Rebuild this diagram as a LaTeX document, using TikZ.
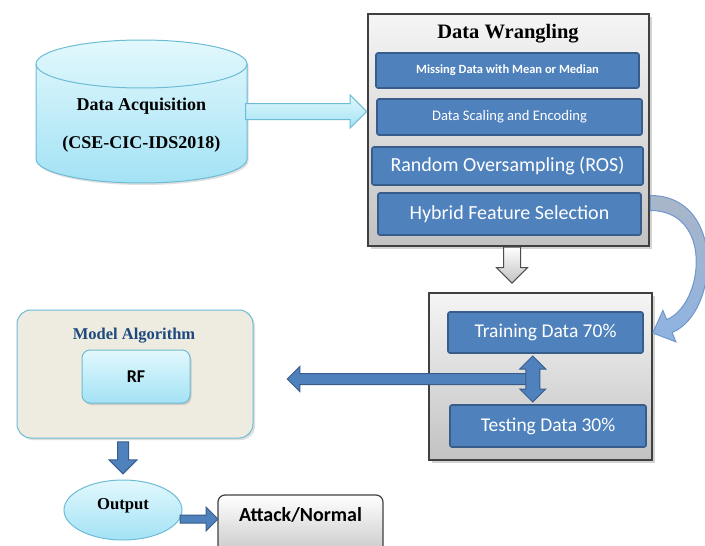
\documentclass[tikz,border=0pt]{standalone}
\usepackage{fontspec}
\setmainfont{Liberation Serif}
\newfontfamily\calibri{Carlito}
\usetikzlibrary{arrows.meta,positioning,calc,shapes.geometric,shapes.arrows,shadows}

\definecolor{boxblue}{HTML}{4F81BD}
\definecolor{boxline}{HTML}{385D8A}
\definecolor{cyantop}{HTML}{E2F8FD}
\definecolor{cyanbot}{HTML}{A3E2F5}
\definecolor{cyanline}{HTML}{6CBCD5}
\definecolor{graytop}{HTML}{F5F5F5}
\definecolor{graybot}{HTML}{C2C2C2}
\definecolor{beige}{HTML}{EEECE1}
\definecolor{navy}{HTML}{1F497D}
\definecolor{curvetop}{HTML}{A9B6C8}
\definecolor{curvebot}{HTML}{8DB3E2}
\definecolor{curveline}{HTML}{7196CA}

\begin{document}
\begin{tikzpicture}[x=1pt, y=-1pt,
  panel/.style={draw=black!75, line width=1.2pt, top color=graytop,
    bottom color=graybot, drop shadow={shadow xshift=2.5pt,
    shadow yshift=-2.5pt, opacity=0.35}},
  stage/.style={draw=boxline, line width=1.6pt, fill=boxblue,
    rounded corners=2pt, text=white,
    font=\calibri\fontsize{20}{24}\selectfont},
  cyanfill/.style={draw=cyanline, line width=1pt, top color=cyantop,
    bottom color=cyanbot},
  flow/.style={single arrow, inner xsep=0pt, line width=1pt},
  downflow/.style={single arrow, shape border rotate=270, inner ysep=0pt,
    line width=1pt},
  bluearrow/.style={draw=boxline, fill=boxblue, line width=1pt},
  head/.style={font=\bfseries\fontsize{#1}{#1}\selectfont}
]
\useasboundingbox (0,0) rectangle (705,546);

% data source (cylinder)
\coordinate (acq) at (141.5,111.5);
\draw[cyanfill,
  drop shadow={shadow xshift=1.5pt, shadow yshift=-2pt, opacity=0.25}]
  (36,64) -- (36,159)
  arc[start angle=180, end angle=360, x radius=105.5pt, y radius=24pt]
  -- (247,64)
  arc[start angle=0, end angle=180, x radius=105.5pt, y radius=24pt] -- cycle;
\draw[cyanline, line width=1pt] (36,64)
  arc[start angle=180, end angle=360, x radius=105.5pt, y radius=24pt];
\node[head=18, align=center] (acqtext) at (141.5,125)
  {Data Acquisition\\[20pt](CSE-CIC-IDS2018)};

% wrangling stages
\node[panel, minimum width=281pt, minimum height=232pt] (wr) at (508.5,130) {};
\node[head=20.5] (wrtitle) at (508,34) {Data Wrangling};
\node[stage, minimum width=263pt, minimum height=35pt,
  font=\calibri\bfseries\fontsize{12.5}{15}\selectfont]
  (miss) at (507.5,70.5) {Missing Data with Mean or Median};
\node[stage, minimum width=265pt, minimum height=36pt,
  font=\calibri\fontsize{14.6}{18}\selectfont]
  (scale) at (509.5,117) {Data Scaling and Encoding};
\node[stage, minimum width=271pt, minimum height=38pt]
  (ros) at (507.5,166) {Random Oversampling (ROS)};
\node[stage, minimum width=263pt, minimum height=42pt]
  (feat) at (509.5,214) {Hybrid Feature Selection};

% train / test split
\node[panel, minimum width=223pt, minimum height=167pt] (split) at (540.5,376.5) {};
\node[stage, minimum width=195pt, minimum height=41pt,
  font=\calibri\fontsize{19.5}{24}\selectfont]
  (train) at (545.5,332.5) {Training Data 70\%};
\node[stage, minimum width=196pt, minimum height=42pt,
  font=\calibri\fontsize{19.5}{24}\selectfont]
  (test) at (548,426) {Testing Data 30\%};

% model
\node[draw=cyanline, line width=1pt, fill=beige, rounded corners=14pt,
  minimum width=236pt, minimum height=128pt,
  drop shadow={shadow xshift=2pt, shadow yshift=-2pt, opacity=0.25}]
  (model) at (135,374) {};
\node[head=16.5, text=navy] (modeltitle) at (134,336) {Model Algorithm};
\node[cyanfill, rounded corners=8pt, minimum width=108pt, minimum height=53pt,
  font=\calibri\bfseries\fontsize{18}{22}\selectfont,
  drop shadow={shadow xshift=1.5pt, shadow yshift=-2pt, opacity=0.3}]
  (rf) at (136,376.5) {RF};

% result
\node[ellipse, cyanfill, inner sep=0pt, minimum width=118pt, minimum height=60pt,
  head=16.7, text height=11pt, text depth=12pt] (out) at (123,510) {Output};
\node[draw=black!75, line width=1.2pt, top color=white, bottom color=graybot,
  rounded corners=7pt, minimum width=165pt, minimum height=66pt,
  font=\calibri\bfseries\fontsize{20}{24}\selectfont,
  text height=14pt, text depth=27pt] (res) at (300.5,528) {Attack/Normal};

% arrows
\node[flow, cyanfill, minimum height=121pt, inner ysep=7.5pt,
  single arrow head extend=8.5pt, anchor=tip]
  (a1) at (wr.west |- acq) {};
\node[downflow, draw=black!70, top color=white, bottom color=graybot,
  minimum height=36pt, inner xsep=8pt,
  single arrow head extend=7pt, anchor=tail]
  (a2) at ($(wr.south)+(3.5,0)$) {};

\coordinate (mid) at ($(train.south)!0.5!(test.north)+(-14,0)$);
\node[flow, bluearrow, shape border rotate=180, minimum height=245pt,
  inner ysep=5pt, single arrow head extend=7pt, anchor=tail]
  (a3) at (mid) {};
\node[double arrow, bluearrow, shape border rotate=90, minimum height=46pt,
  inner xsep=6.5pt, inner ysep=0pt, double arrow head extend=6pt]
  (a4) at (mid) {};

\node[downflow, bluearrow, minimum height=32pt,
  inner xsep=5pt, single arrow head extend=8.5pt, anchor=tip]
  (a5) at ($(out.north)+(0,-5)$) {};
\node[flow, bluearrow, minimum height=38pt, inner ysep=3.5pt,
  single arrow head extend=8pt, anchor=tail]
  (a6) at ($(out.east)+(-3,9)$) {};

% curved feed from feature selection to training data
\begin{scope}[shift={(train.east)}]
\draw[curveline, line width=1pt, top color=curvetop, bottom color=curvebot]
  (6.5,-137) .. controls (82,-137) and (76,-20) .. (28.3,0.1)
  -- (32.1,9.3) -- (9,0.5) -- (19.1,-22.1) -- (22.9,-12.9)
  .. controls (60,-28) and (70,-122) .. (6.5,-122) -- cycle;
\end{scope}

\end{tikzpicture}
\end{document}
